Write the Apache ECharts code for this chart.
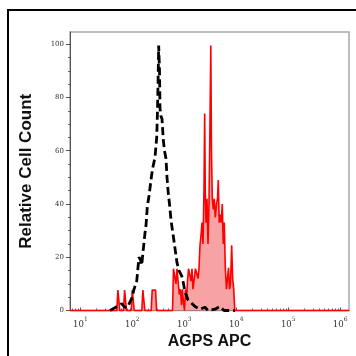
<!DOCTYPE html>
<html>
<head>
<meta charset="utf-8">
<script src="https://cdn.jsdelivr.net/npm/echarts@6/dist/echarts.min.js"></script>
<style>
html,body{margin:0;padding:0;background:#fff;}
#c{width:356px;height:356px;}
</style>
</head>
<body>
<div id="c"></div>
<script>
// x values are log10 of AGPS APC intensity (decades), y values are relative cell count
var isotypeX = [1.570,1.633,1.705,1.795,1.839,1.891,1.936,1.987,2.032,2.084,2.128,2.157,2.180,2.205,2.243,2.263,2.288,2.320,2.340,2.372,2.397,2.436,2.469,2.484,2.494,2.507,2.523,2.532,2.551,2.571,2.596,2.619,2.648,2.667,2.692,2.715,2.744,2.773,2.802,2.830,2.859,2.898,2.950,2.975,3.004,3.033,3.071,3.129,3.206,3.302,3.398,3.456,3.591,3.687,3.764,3.976];
var isotypeY = [0,0.7,1.5,2.6,1.5,1,2.5,4.5,8,11,20,19,17,22,29,32,39,43,46,51,54,57.5,65,75,85,99.5,90,76,73,72,64,60,57,50,44,40,34,30,26,22,18,15,13,11,8,6,4,3,1.5,0.5,1.2,0,0.5,1.5,0,0];

var stainedX = [0.80,1.701,1.722,1.737,1.758,1.830,1.851,1.866,1.887,1.978,1.999,2.014,2.036,2.182,2.203,2.218,2.240,2.363,2.382,2.447,2.467,
  2.773,2.792,2.821,2.840,2.859,2.884,2.904,2.927,2.946,2.965,2.984,3.004,3.023,3.042,3.061,3.081,3.110,3.129,3.148,3.167,3.196,3.215,3.244,3.263,3.283,3.302,3.321,3.341,3.360,3.379,3.392,3.404,3.417,3.437,3.456,3.475,3.494,3.510,3.523,3.539,3.558,3.577,3.596,3.620,3.639,3.654,3.672,3.691,3.710,3.731,3.750,3.770,3.789,3.812,3.831,3.851,3.870,3.889,3.912,3.931,3.951,3.972,6.17];
var stainedY = [0,0,7.7,7.7,0,0,7.7,7.7,0,0,7.7,7.7,0,0,7.7,7.7,0,0,7.7,7.7,0,
  0,15.7,15.7,10,15.7,15.7,6,8,2,8,3,0,8,4,11,15.7,15.7,11,15.7,8,8,15.7,15.7,12,15.7,24.5,28,33,25,45,74,45,33,42,25,40,70,99.5,60,42,38,42,35,40,42,49,33,36,33,40,25,33,16,8,12,16,8,10,24.5,12,8,0,0];

var decadeTicks = [1,2,3,4,5,6];
var countTicks = [0,20,40,60,80,100];
var xTitle = 'AGPS APC';
var yTitle = 'Relative Cell Count';

function pairs(xs, ys){ var o=[]; for(var i=0;i<xs.length;i++) o.push([xs[i], ys[i]]); return o; }

var X_MIN = 0.8, X_MAX = 6.17, Y_MIN = 0, Y_MAX = 104.6;
var xMinor = [];
for (var n = 0; n <= 6; n++) for (var k = 2; k <= 9; k++) { var v = n + Math.log10(k); if (v > X_MIN && v < X_MAX) xMinor.push(v); }
var yMinor = [];
for (var m = 5; m < 104; m += 5) if (m % 20 !== 0) yMinor.push(m);

var chart = echarts.init(document.getElementById('c'), null, {renderer:'canvas'});
chart.setOption({
  animation: false,
  backgroundColor: '#fff',
  graphic: [{
    type: 'rect', silent: true, z: 100,
    shape: {x: 8, y: 10, width: 400, height: 400},
    style: {fill: 'none', stroke: '#000', lineWidth: 2}
  }],
  grid: {left: 70, top: 32, right: 7, bottom: 45.5, show: true, borderColor: '#a8a8a8', borderWidth: 1.5, backgroundColor: 'transparent'},
  xAxis: [{
    type: 'value', min: X_MIN, max: X_MAX, position: 'bottom',
    name: xTitle, nameLocation: 'middle', nameGap: 23,
    nameTextStyle: {fontFamily: 'Liberation Sans', fontWeight: 'bold', fontSize: 16, color: '#111'},
    axisLine: {show: true, lineStyle: {color: '#555', width: 1}},
    axisTick: {show: true, inside: true, length: 3, customValues: decadeTicks, lineStyle: {color: '#555'}},
    axisLabel: {
      customValues: decadeTicks, margin: 6,
      formatter: function(v){ return '{b|10}{s|' + Math.round(v) + '}'; },
      rich: {
        b: {fontFamily: 'DejaVu Serif', fontSize: 8.5, color: '#333', lineHeight: 16},
        s: {fontFamily: 'DejaVu Serif', fontSize: 6, color: '#333', lineHeight: 6, verticalAlign: 'top'}
      }
    },
    splitLine: {show: false}
  }, {
    type: 'value', min: X_MIN, max: X_MAX, position: 'bottom',
    axisLine: {show: false},
    axisTick: {show: true, inside: true, length: 2, customValues: xMinor, lineStyle: {color: '#666'}},
    axisLabel: {show: false},
    splitLine: {show: false}
  }],
  yAxis: [{
    type: 'value', min: Y_MIN, max: Y_MAX, position: 'left',
    name: yTitle, nameLocation: 'middle', nameGap: 35, nameRotate: 90,
    nameTextStyle: {fontFamily: 'Liberation Sans', fontWeight: 'bold', fontSize: 17, color: '#111'},
    axisLine: {show: true, lineStyle: {color: '#555', width: 1}},
    axisTick: {show: true, inside: false, length: 4, customValues: countTicks, lineStyle: {color: '#555'}},
    axisLabel: {customValues: countTicks, margin: 6, fontFamily: 'DejaVu Serif', fontSize: 7, color: '#333'},
    splitLine: {show: false}
  }, {
    type: 'value', min: Y_MIN, max: Y_MAX, position: 'left',
    axisLine: {show: false},
    axisTick: {show: true, inside: false, length: 2, customValues: yMinor, lineStyle: {color: '#666'}},
    axisLabel: {show: false},
    splitLine: {show: false}
  }],
  series: [{
    name: 'AGPS APC', type: 'line', xAxisIndex: 0, yAxisIndex: 0,
    data: pairs(stainedX, stainedY), showSymbol: false, symbol: 'none', clip: false, z: 2,
    lineStyle: {color: '#ff0000', width: 1.6},
    areaStyle: {color: '#f7a3a3', opacity: 1}
  }, {
    name: 'Isotype', type: 'line', xAxisIndex: 0, yAxisIndex: 0,
    data: pairs(isotypeX, isotypeY), showSymbol: false, symbol: 'none', z: 3,
    lineStyle: {color: '#000', width: 2.8, type: [8, 4]}
  }]
});
</script>
</body>
</html>
